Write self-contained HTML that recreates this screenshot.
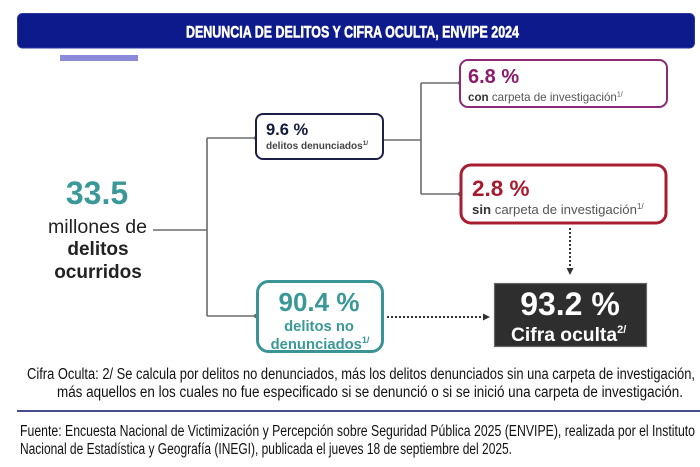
<!DOCTYPE html>
<html>
<head>
<meta charset="utf-8">
<style>
  html, body { margin: 0; padding: 0; background: #ffffff; }
  body { width: 700px; height: 467px; overflow: hidden; }
  svg { display: block; }
  text { font-family: "Liberation Sans", Arial, sans-serif; }
</style>
</head>
<body>
<svg width="700" height="467" viewBox="0 0 700 467" xmlns="http://www.w3.org/2000/svg">
  <!-- Header banner -->
  <rect x="17.5" y="13.5" width="677" height="34.5" rx="5" ry="5" fill="#0c1a8b" stroke="#2a36a0" stroke-width="1"/>
  <text x="186" y="37.5" font-size="17" font-weight="bold" fill="#ffffff" stroke="#ffffff" stroke-width="0.6" textLength="333" lengthAdjust="spacingAndGlyphs">DENUNCIA DE DELITOS Y CIFRA OCULTA, ENVIPE 2024</text>

  <!-- light purple bar -->
  <rect x="60" y="55" width="78" height="6" fill="#8a8ad8"/>

  <!-- Connector lines -->
  <g stroke="#6b6b6b" stroke-width="1.6" fill="none">
    <line x1="153" y1="230" x2="207" y2="230"/>
    <line x1="207" y1="138" x2="207" y2="316"/>
    <line x1="207" y1="138" x2="256" y2="138"/>
    <line x1="207" y1="316" x2="256" y2="316"/>
    <line x1="383" y1="140" x2="421" y2="140"/>
    <line x1="421" y1="83" x2="421" y2="194"/>
    <line x1="421" y1="83" x2="460" y2="83"/>
    <line x1="421" y1="194" x2="460" y2="194"/>
  </g>
  <g fill="#6b6b6b">
    <circle cx="256" cy="138" r="2.2"/>
    <circle cx="256" cy="316" r="2.2"/>
    <circle cx="460" cy="83" r="2.2"/>
    <circle cx="460" cy="194" r="2.2"/>
  </g>

  <!-- Dotted arrows -->
  <g stroke="#333" stroke-width="2" fill="none" stroke-dasharray="2 2">
    <line x1="387" y1="317" x2="483" y2="317"/>
    <line x1="570" y1="228" x2="570" y2="268"/>
  </g>
  <polygon points="483,313.5 490,317 483,320.5" fill="#333"/>
  <polygon points="566.5,268 573.5,268 570,275" fill="#333"/>

  <!-- Left: 33.5 millones -->
  <text x="97" y="204" font-size="32" font-weight="bold" fill="#3a9899" text-anchor="middle">33.5</text>
  <text x="48" y="233" font-size="19.5" fill="#222" textLength="99" lengthAdjust="spacingAndGlyphs">millones de</text>
  <text x="98" y="255" font-size="19" font-weight="bold" fill="#222" text-anchor="middle">delitos</text>
  <text x="98" y="278" font-size="19" font-weight="bold" fill="#222" text-anchor="middle">ocurridos</text>

  <!-- 9.6 % box -->
  <rect x="256" y="114" width="127" height="45" rx="7" ry="7" fill="#fff" stroke="#1b2048" stroke-width="2"/>
  <text x="266" y="135" font-size="16.5" font-weight="bold" fill="#111a3c">9.6 %</text>
  <text x="266" y="149" font-size="10" font-weight="bold" fill="#444">delitos denunciados<tspan font-size="6.5" dy="-4">1/</tspan></text>

  <!-- 6.8 % box -->
  <rect x="460" y="60" width="207" height="47" rx="8" ry="8" fill="#fff" stroke="#8b2a76" stroke-width="2"/>
  <text x="468" y="83" font-size="20" font-weight="bold" fill="#8b1c6c">6.8 %</text>
  <text x="468" y="101" font-size="11.6" fill="#555"><tspan font-weight="bold" fill="#333">con</tspan> carpeta de investigación<tspan font-size="7" dy="-4.5">1/</tspan></text>

  <!-- 2.8 % box -->
  <rect x="461" y="165" width="205" height="58" rx="10" ry="10" fill="#fff" stroke="#a81d30" stroke-width="3"/>
  <text x="472" y="196" font-size="22.5" font-weight="bold" fill="#a8192e">2.8 %</text>
  <text x="472" y="214" font-size="13.2" fill="#555"><tspan font-weight="bold" fill="#333">sin</tspan> carpeta de investigación<tspan font-size="8" dy="-5">1/</tspan></text>

  <!-- 90.4 % box -->
  <rect x="257.5" y="281.5" width="125" height="70" rx="11" ry="11" fill="#fff" stroke="#3a9495" stroke-width="3"/>
  <text x="319" y="311" font-size="26" font-weight="bold" fill="#3a9899" text-anchor="middle">90.4 %</text>
  <text x="319" y="331" font-size="14.8" font-weight="bold" fill="#3a9899" text-anchor="middle">delitos no</text>
  <text x="320" y="349" font-size="14.8" font-weight="bold" fill="#3a9899" text-anchor="middle">denunciados<tspan font-size="9" dy="-6">1/</tspan></text>

  <!-- 93.2 % black box -->
  <rect x="494.5" y="283.5" width="152" height="63" fill="#2e2e2e" stroke="#666" stroke-width="1.2"/>
  <text x="570" y="315" font-size="32" font-weight="bold" fill="#ffffff" text-anchor="middle">93.2 %</text>
  <text x="511" y="341" font-size="19.3" font-weight="bold" fill="#ffffff">Cifra oculta<tspan font-size="11" dy="-8">2/</tspan></text>

  <!-- Footnote -->
  <text x="27" y="379" font-size="15.5" fill="#111" textLength="668" lengthAdjust="spacingAndGlyphs">Cifra Oculta: 2/ Se calcula por delitos no denunciados, más los delitos denunciados sin una carpeta de investigación,</text>
  <text x="57" y="397" font-size="15.5" fill="#111" textLength="626" lengthAdjust="spacingAndGlyphs">más aquellos en los cuales no fue especificado si se denunció o si se inició una carpeta de investigación.</text>

  <!-- Divider -->
  <line x1="17" y1="411" x2="700" y2="411" stroke="#4b4b8f" stroke-width="2"/>

  <!-- Source -->
  <text x="20" y="436" font-size="15.5" fill="#111" textLength="675" lengthAdjust="spacingAndGlyphs">Fuente: Encuesta Nacional de Victimización y Percepción sobre Seguridad Pública 2025 (ENVIPE), realizada por el Instituto</text>
  <text x="20" y="454" font-size="15.5" fill="#111" textLength="492" lengthAdjust="spacingAndGlyphs">Nacional de Estadística y Geografía (INEGI), publicada el jueves 18 de septiembre del 2025.</text>
</svg>
</body>
</html>
